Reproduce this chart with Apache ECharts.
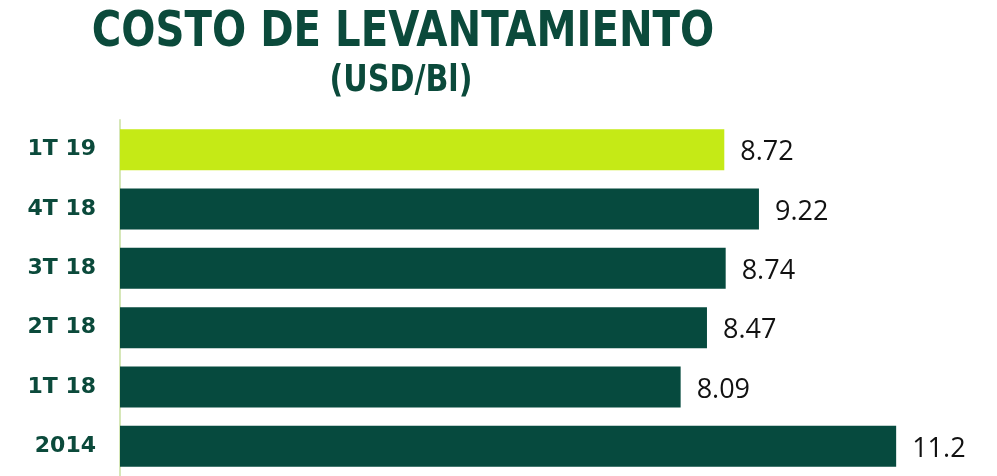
<!DOCTYPE html>
<html lang="es">
<head>
    <meta charset="UTF-8">
    <title>Costo de levantamiento</title>
    <script type="text/javascript" src="https://cdn.jsdelivr.net/npm/echarts@6/dist/echarts.min.js"></script>
    <style>
        html, body { margin: 0; padding: 0; background: #fff; }
    </style>
</head>
<body>
<div id="main" style="width: 997px;height: 476px"></div>

<script>
    // datos
    var periodos = ['1T 19', '4T 18', '3T 18', '2T 18', '1T 18', '2014'];
    var costos = [8.72, 9.22, 8.74, 8.47, 8.09, 11.2];

    var verdeOscuro = '#064a3e';
    var verdeClaro = '#c5ea16';
    var textoVerde = '#0b4a3b';
    var fuenteTitulo = "'Liberation Sans Narrow', 'DejaVu Sans Condensed', sans-serif";

    var myChart = echarts.init(document.getElementById('main'));

    var option = {
        animation: false,
        // titulo con letra angosta: se comprime un poco en horizontal
        graphic: [
            {
                type: 'text',
                x: 403,
                y: 8,
                scaleX: 0.895,
                style: {
                    text: 'COSTO DE LEVANTAMIENTO',
                    textAlign: 'center',
                    textVerticalAlign: 'top',
                    font: 'bold 50px ' + fuenteTitulo,
                    fill: textoVerde
                }
            },
            {
                type: 'text',
                x: 401,
                y: 62,
                scaleX: 0.88,
                style: {
                    text: '(USD/Bl)',
                    textAlign: 'center',
                    textVerticalAlign: 'top',
                    font: 'bold 38px ' + fuenteTitulo,
                    fill: textoVerde
                }
            }
        ],
        grid: {
            left: 120,
            top: 120,
            width: 831.6,
            height: 362
        },
        xAxis: {
            type: 'value',
            min: 0,
            max: 12,
            show: false
        },
        yAxis: {
            type: 'category',
            inverse: true,
            data: periodos,
            axisLine: { lineStyle: { color: '#d6e7b8', width: 2 } },
            axisTick: { length: 8, lineStyle: { color: '#d6e7b8', width: 2 } },
            axisLabel: {
                margin: 24,
                fontFamily: 'DejaVu Sans',
                fontWeight: 'bold',
                fontSize: 22,
                color: textoVerde
            }
        },
        series: [
            {
                type: 'bar',
                data: costos,
                barWidth: 41,
                itemStyle: {
                    color: function (p) {
                        return p.dataIndex === 0 ? verdeClaro : verdeOscuro;
                    }
                },
                label: {
                    show: true,
                    position: 'right',
                    distance: 16,
                    offset: [0, 3],
                    fontFamily: 'Open Sans',
                    fontSize: 27,
                    color: '#111'
                }
            }
        ]
    };

    myChart.setOption(option);
</script>
</body>
</html>
